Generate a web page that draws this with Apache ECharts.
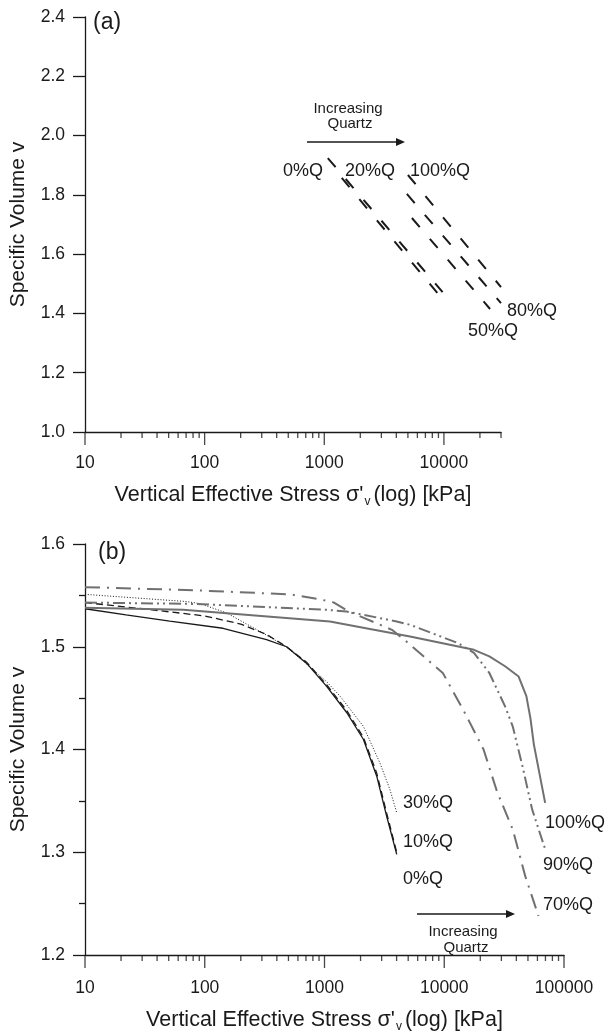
<!DOCTYPE html>
<html><head><meta charset="utf-8">
<script src="https://cdn.jsdelivr.net/npm/echarts@6/dist/echarts.min.js"></script>
<style>html,body{margin:0;padding:0;background:#fff}#c{width:609px;height:1034px}</style>
</head><body><div id="c"></div>
<script>
// ---------- Panel (a): NCL lines  [stress kPa, specific volume] ----------
const aQ0   = [[1070, 1.924], [9750, 1.472]];
const aQ20  = [[1400, 1.857], [9100, 1.462]];
const aQ50  = [[5400, 1.722], [24300, 1.415]];
const aQ80  = [[4900, 1.803], [30000, 1.435]];
const aQ100 = [[5000, 1.867], [30000, 1.489]];

// ---------- Panel (b): compression curves ----------
const bQ0 = [[10,1.537],[22,1.531],[51,1.525],[142,1.518],[328,1.507],[482,1.500],[708,1.484],[1042,1.4615],[1531,1.436],[2110,1.410],[2730,1.374],[3305,1.335],[4010,1.298]];
const bQ10 = [[10,1.543],[30,1.537],[100,1.530],[200,1.522],[328,1.512],[482,1.500],[708,1.485],[1042,1.463],[1531,1.438],[2110,1.412],[2730,1.377],[3305,1.338],[4010,1.300]];
const bQ30 = [[10,1.551],[70,1.544],[91,1.542],[152,1.533],[288,1.515],[482,1.500],[1042,1.466],[1346,1.452],[2110,1.4226],[2900,1.387],[3520,1.361],[4010,1.3385]];
const bQ70 = [[10,1.558],[80,1.555],[513,1.551],[881,1.5466],[1200,1.543],[1616,1.534],[3660,1.5165],[4960,1.504],[7470,1.486],[9730,1.4745],[14650,1.437],[21300,1.400],[27500,1.3595],[37300,1.3223],[47400,1.277],[61200,1.238]];
const bQ90 = [[10,1.543],[80,1.5417],[1040,1.536],[1530,1.5343],[4010,1.5246],[5180,1.5214],[13000,1.5036],[17700,1.494],[23800,1.4745],[32200,1.442],[37300,1.4226],[45000,1.3838],[54200,1.3417],[69600,1.303]];
const bQ100 = [[10,1.538],[66,1.536],[1110,1.5246],[5180,1.510],[17700,1.497],[23800,1.4906],[32200,1.481],[41800,1.471],[48500,1.452],[52500,1.430],[56000,1.405],[69600,1.348]];

// ---------- tick values ----------
const aMajorTicks = [10, 100, 1000, 10000];
const aMinorTicks = [20,30,40,50,60,70,80,90,200,300,400,500,600,700,800,900,2000,3000,4000,5000,6000,7000,8000,9000,20000,30000];
const bMajorTicks = [10, 100, 1000, 10000, 100000];
const bMinorTicks = [20,30,40,50,60,70,80,90,200,300,400,500,600,700,800,900,2000,3000,4000,5000,6000,7000,8000,9000,20000,30000,40000,50000,60000,70000,80000,90000];

const black = '#1a1a1a', gray = '#707070';
const FONT = 'Liberation Sans, Arial, sans-serif';

function lineS(data, gi, color, width, type) {
  return {type:'line', data, xAxisIndex:gi, yAxisIndex:gi, symbol:'none', showSymbol:false,
    lineStyle:{color, width, type}, silent:true, animation:false, z:3, clip:true};
}
function tickS(values, yMin, gi, len) {
  return {type:'scatter', data: values.map(v => [v, yMin]), xAxisIndex:gi, yAxisIndex:gi,
    symbol:'rect', symbolSize:[1.3, len], symbolOffset:[0, len/2], itemStyle:{color:black},
    silent:true, clip:false, animation:false, z:5};
}
const xTitle = "{a|Vertical Effective Stress σ'}{s|v}{a|(log) [kPa]}";
function xAxisCfg(gi, max, margin, gap) {
  return {type:'log', logBase:10, gridIndex:gi, min:10, max,
    axisLine:{show:true, onZero:false, lineStyle:{color:black, width:1.3}},
    axisTick:{show:false}, splitLine:{show:false}, minorTick:{show:false},
    axisLabel:{margin, fontSize:17.5, color:black, fontFamily:FONT,
      formatter: v => { const l = Math.log10(v); return Math.abs(l - Math.round(l)) < 1e-6 ? String(Math.round(v)) : ''; }},
    name: xTitle, nameLocation:'middle', nameGap:gap,
    nameTextStyle:{color:black, fontFamily:FONT, rich:{
      a:{fontSize:21.5, color:black, fontFamily:FONT, lineHeight:26},
      s:{fontSize:12, color:black, fontFamily:FONT, verticalAlign:'bottom', lineHeight:14, padding:[0,3,0,1]}}}};
}
function yAxisCfg(gi, min, max, interval, minor) {
  return {type:'value', gridIndex:gi, min, max, interval,
    axisLine:{show:true, onZero:false, lineStyle:{color:black, width:1.3}},
    axisTick:{show:true, length:12, lineStyle:{color:black, width:1.3}},
    minorTick:{show:minor, splitNumber:2, length:6, lineStyle:{color:black, width:1.3}},
    splitLine:{show:false}, minorSplitLine:{show:false},
    axisLabel:{margin:20, fontSize:17.5, color:black, fontFamily:FONT, formatter: v => v.toFixed(1)},
    name:'Specific Volume v', nameLocation:'middle', nameGap:56,
    nameTextStyle:{fontSize:21, color:black, fontFamily:FONT}};
}
function txt(x, y, s, size, align) {
  return {type:'text', x, y, silent:true, style:{text:s, fill:black, font: size + 'px ' + FONT, textAlign: align || 'left', textVerticalAlign:'middle'}};
}
function arrow(x1, x2, y) {
  return [{type:'line', silent:true, shape:{x1, y1:y, x2:x2-6, y2:y}, style:{stroke:black, lineWidth:1.4}},
          {type:'polygon', silent:true, shape:{points:[[x2,y],[x2-9,y-4],[x2-9,y+4]]}, style:{fill:black}}];
}

const option = {
  backgroundColor:'#fff', animation:false,
  grid:[{left:85, top:17, width:416, height:415},
        {left:85, top:544, width:479, height:412}],
  xAxis:[xAxisCfg(0, 30000, 22, 50), xAxisCfg(1, 100000, 24, 52)],
  yAxis:[yAxisCfg(0, 1.0, 2.4, 0.2, false), yAxisCfg(1, 1.2, 1.6, 0.1, true)],
  series:[
    lineS(aQ0, 0, black, 2, [12, 15.5]),
    lineS(aQ20, 0, black, 2, [12, 15.5]),
    lineS(aQ50, 0, black, 2, [12, 15.5]),
    lineS(aQ80, 0, black, 2, [12, 15.5]),
    lineS(aQ100, 0, black, 2, [12, 15.5]),
    lineS(bQ0, 1, black, 1.3, 'solid'),
    lineS(bQ10, 1, black, 1.3, [7, 4]),
    lineS(bQ30, 1, black, 1, [1, 1.8]),
    lineS(bQ70, 1, gray, 2, [15, 7, 2, 7]),
    lineS(bQ90, 1, gray, 2, [12, 4, 2, 4, 2, 4]),
    lineS(bQ100, 1, gray, 2, 'solid'),
    tickS(aMajorTicks, 1.0, 0, 13), tickS(aMinorTicks, 1.0, 0, 6),
    tickS(bMajorTicks, 1.2, 1, 13), tickS(bMinorTicks, 1.2, 1, 6)
  ],
  graphic:[
    txt(93, 23, '(a)', 23),
    txt(348, 109, 'Increasing', 15, 'center'),
    txt(350, 124, 'Quartz', 15, 'center'),
    ...arrow(307, 405, 142),
    txt(283, 171, '0%Q', 18), txt(345, 171, '20%Q', 18), txt(410, 171, '100%Q', 18),
    txt(507, 311, '80%Q', 18), txt(468, 331, '50%Q', 18),
    txt(98, 553, '(b)', 23),
    txt(403, 803, '30%Q', 18), txt(403, 842, '10%Q', 18), txt(403, 879, '0%Q', 18),
    txt(545, 823, '100%Q', 18), txt(543, 865, '90%Q', 18), txt(543, 905, '70%Q', 18),
    ...arrow(417, 515, 914),
    txt(463, 932, 'Increasing', 15, 'center'),
    txt(466, 948, 'Quartz', 15, 'center')
  ]
};
const chart = echarts.init(document.getElementById('c'));
chart.setOption(option);
</script></body></html>
